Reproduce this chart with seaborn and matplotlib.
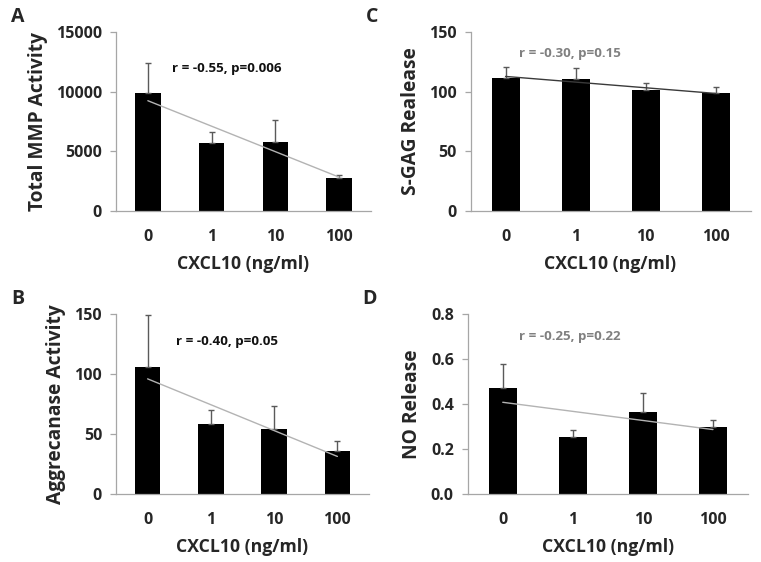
import numpy as np
import matplotlib
matplotlib.use("Agg")
import matplotlib.pyplot as plt
import seaborn as sns

sns.set_style("white")
plt.rcParams['font.family'] = ['Open Sans', 'DejaVu Sans']
plt.rcParams['font.weight'] = 'bold'

doses = ['0', '1', '10', '100']

# panel A - total MMP activity
mmp_mean = [9900, 5700, 5800, 2750]
mmp_top = [12400, 6600, 7600, 3000]
# panel B - aggrecanase activity
agg_mean = [106, 58.5, 54.5, 35.5]
agg_top = [149, 70, 73.5, 44]
# panel C - s-GAG release
gag_mean = [111.5, 111, 101, 99]
gag_top = [120.5, 120, 107, 103.5]
# panel D - NO release
no_mean = [0.47, 0.254, 0.366, 0.298]
no_top = [0.579, 0.285, 0.449, 0.331]

panels = [
    # letter, mean, top, ylabel, yticks, ylim top, stats text, text pos, text color, trend color, axes rect
    ('A', mmp_mean, mmp_top, 'Total MMP Activity', [0, 5000, 10000, 15000], 15000,
     'r = -0.55, p=0.006', (1.24, 11900), '#111111', '#b3b3b3', [0.1524, 0.6246, 0.3351, 0.3185]),
    ('C', gag_mean, gag_top, 'S-GAG Realease', [0, 50, 100, 150], 150,
     'r = -0.30, p=0.15', (0.92, 132), '#808080', '#3a3a3a', [0.6183, 0.6246, 0.3680, 0.3185]),
    ('B', agg_mean, agg_top, 'Aggrecanase Activity', [0, 50, 100, 150], 150,
     'r = -0.40, p=0.05', (1.25, 127), '#111111', '#b3b3b3', [0.1524, 0.1210, 0.3325, 0.3203]),
    ('D', no_mean, no_top, 'NO Release', [0.0, 0.2, 0.4, 0.6, 0.8], 0.8,
     'r = -0.25, p=0.22', (0.96, 0.698), '#808080', '#b3b3b3', [0.6146, 0.1210, 0.3683, 0.3203]),
]

fig = plt.figure(figsize=(7.61, 5.62), dpi=100)

for letter, mean, top, ylab, yt, ymax, stat, tpos, tcol, lcol, rect in panels:
    ax = fig.add_axes(rect)
    sns.barplot(x=doses, y=mean, color='black', width=0.4, errorbar=None,
                saturation=1, linewidth=0, ax=ax)
    x = np.arange(len(doses))
    up = np.array(top) - np.array(mean)
    ax.errorbar(x, mean, yerr=[np.zeros(len(x)), up], fmt='none',
                ecolor='#5a5a5a', elinewidth=1, capsize=2.5, capthick=1, zorder=3)
    # linear trend line through the means
    k, b = np.polyfit(x, mean, 1)
    ax.plot(x, k * x + b, color=lcol, lw=1, zorder=4)

    ax.set_xlim(-0.5, 3.5)
    ax.set_ylim(0, ymax)
    ax.set_yticks(yt)
    if letter == 'D':
        ax.set_yticklabels([f'{v:.1f}' for v in yt])
    for s in ['top', 'right']:
        ax.spines[s].set_visible(False)
    for s in ['left', 'bottom']:
        ax.spines[s].set_color('#a6a6a6')
        ax.spines[s].set_linewidth(0.9)
    ax.set_xticks(np.arange(-0.5, 4, 1), minor=True)
    ax.tick_params(axis='x', which='major', length=0, pad=13, labelsize=11.5)
    ax.tick_params(axis='x', which='minor', length=4, color='#a6a6a6', width=0.9, direction='out')
    ax.tick_params(axis='y', length=4, color='#a6a6a6', width=0.9, direction='out',
                   left=True, pad=6, labelsize=11.5)
    for lab in ax.get_xticklabels() + ax.get_yticklabels():
        lab.set_fontweight('bold')
    ax.set_xlabel('CXCL10 (ng/ml)', fontsize=12.7, fontweight='bold', labelpad=7)
    ax.set_ylabel(ylab, fontsize=13.8, fontweight='bold', labelpad=6)
    ax.text(tpos[0], tpos[1], stat, color=tcol, fontsize=9.6, fontweight='bold',
            ha='center', va='center')
    fig.text(rect[0] - 0.138, rect[1] + rect[3] + 0.008, letter, fontsize=14,
             fontweight='bold', ha='left', va='bottom')

fig.savefig('out.png', dpi=100)
